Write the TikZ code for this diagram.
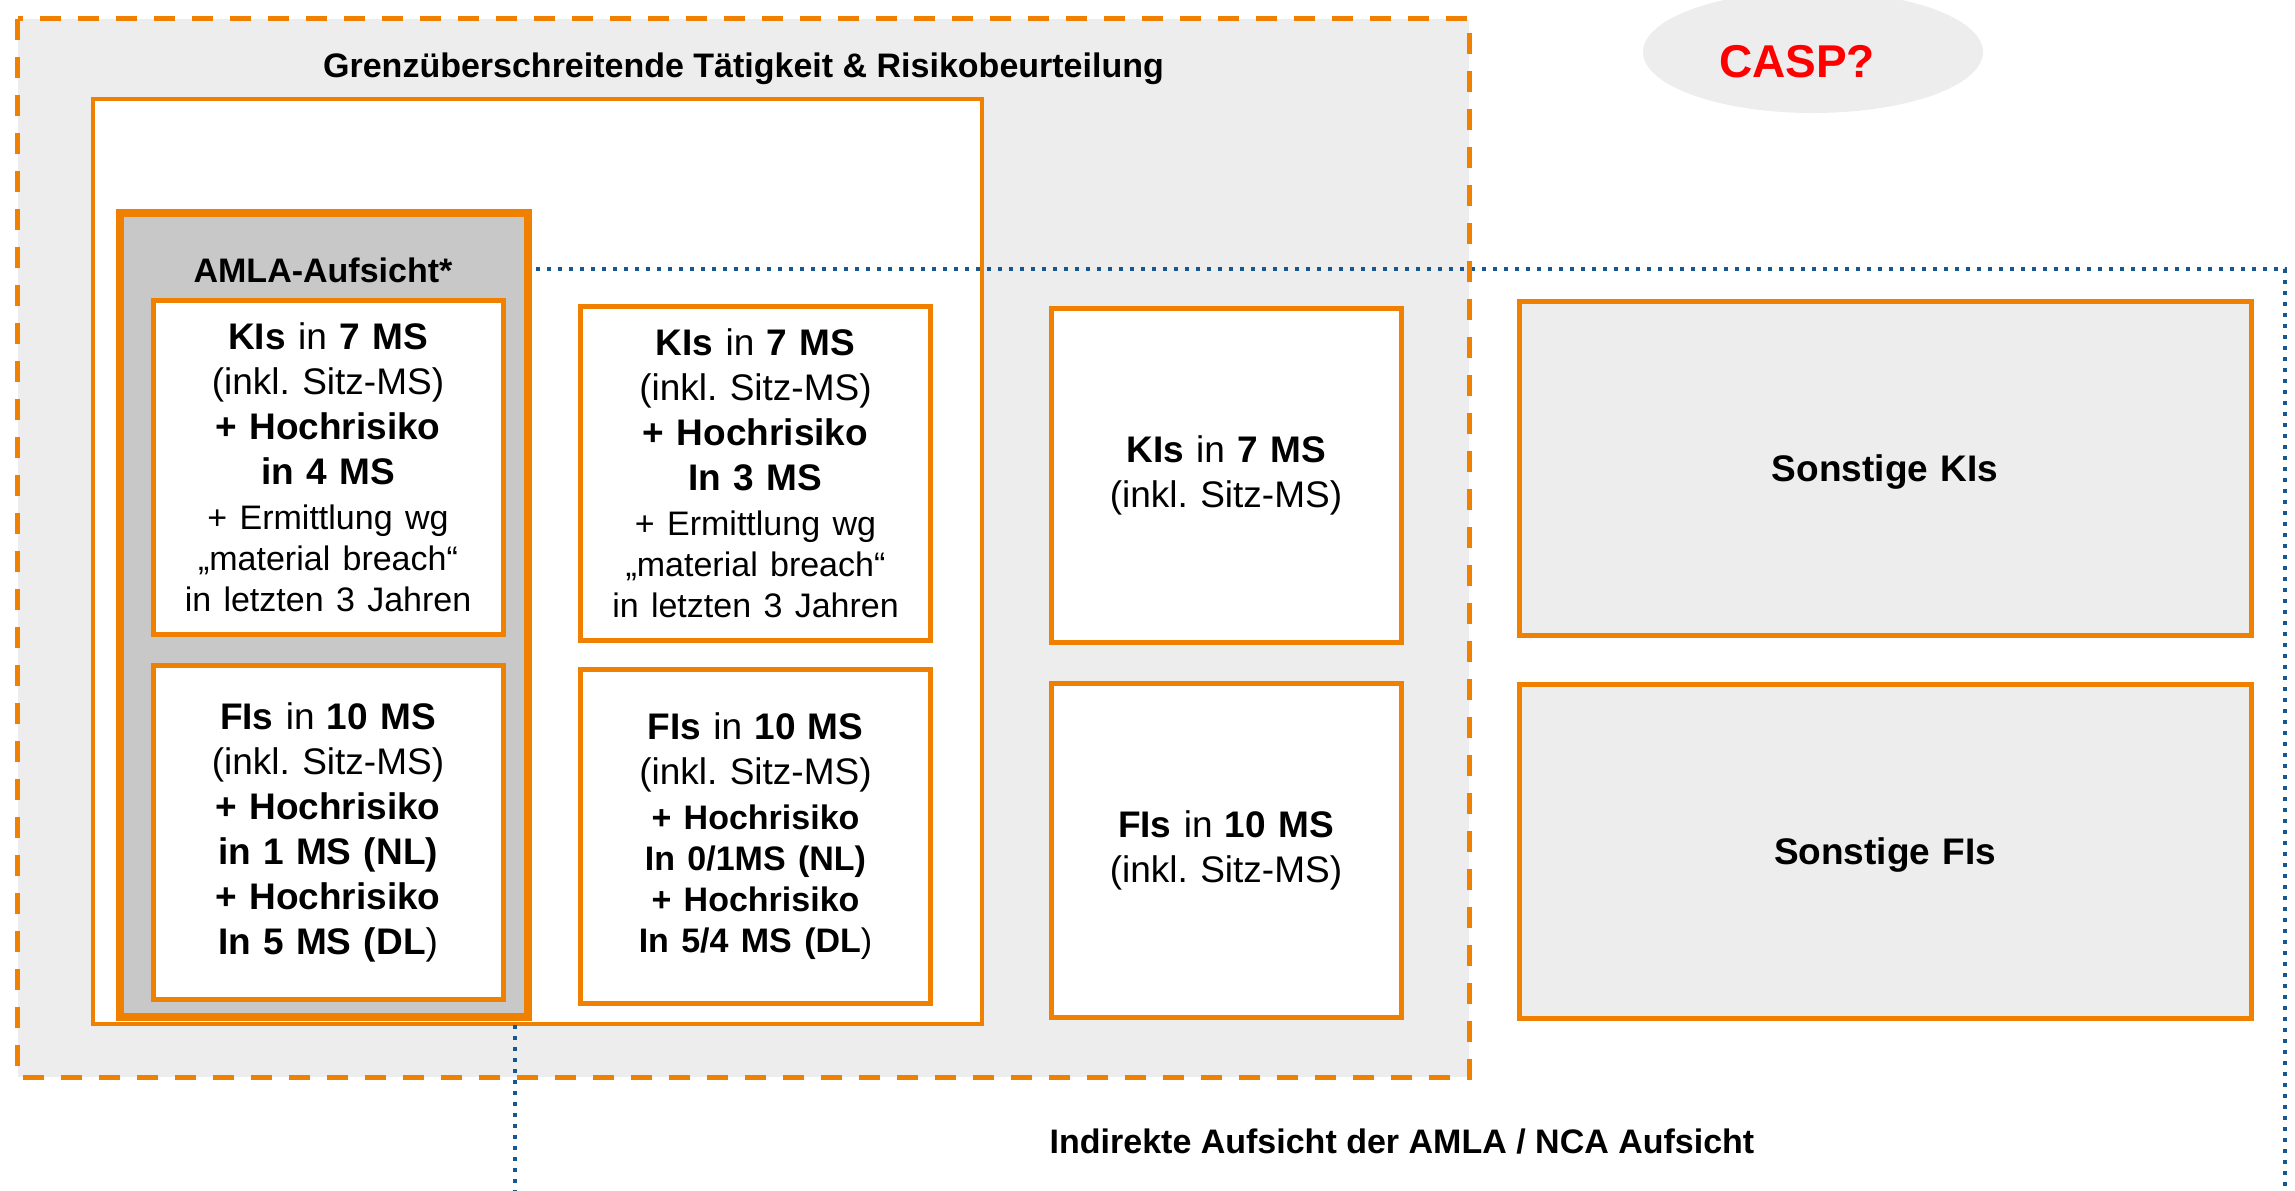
\documentclass[tikz,border=0pt]{standalone}
\usepackage{fontspec}
\setmainfont{Liberation Sans}
\usetikzlibrary{shapes.geometric}
\definecolor{amlaorange}{RGB}{240,128,0}
\definecolor{lightgrey}{RGB}{237,237,237}
\definecolor{amlagrey}{RGB}{200,200,200}
\definecolor{ncablue}{RGB}{22,86,145}
\newcommand{\klein}[1]{{\fontsize{17}{20.5}\selectfont #1}}
\tikzstyle{msbox}=[rectangle, draw=amlaorange, line width=2.5pt, fill=white, inner sep=0pt, align=center, text width=165pt, minimum width=175pt, minimum height=167pt, font=\fontsize{18.5}{22.5}\selectfont]
\tikzstyle{restbox}=[msbox, fill=lightgrey, text width=350pt, text depth=0pt, minimum width=366pt]
\tikzstyle{headline}=[anchor=base, inner sep=0pt, font=\bfseries\fontsize{17}{20}\selectfont]
\frenchspacing

\begin{document}
\begin{tikzpicture}[x=0.5pt, y=-0.5pt]
    \useasboundingbox (0,0) rectangle (2295,1190);
    % grenzueberschreitende Taetigkeit
    \node[rectangle, fill=lightgrey, minimum width=725.5pt, minimum height=529pt] (cross) at (743.5,548) {};
    \node[headline] (crosslabel) at (743.5,77) {Grenzüberschreitende Tätigkeit \& Risikobeurteilung};
    \node[ellipse, fill=lightgrey, inner sep=0pt, minimum width=170pt, minimum height=61pt] (caspbubble) at (1813,52) {};
    \node[anchor=base, inner sep=0pt, text=red, font=\bfseries\fontsize{23}{27}\selectfont] (casp) at (1797,77) {CASP?};
    \node[rectangle, draw=amlaorange, fill=white, line width=2.25pt, minimum width=444.5pt, minimum height=462.5pt] (risk) at (537.5,561.5) {};
    % indirekte Aufsicht
    \node[rectangle, draw=ncablue, line width=2.3pt, dash pattern=on 2.2pt off 3.3pt, minimum width=885pt, minimum height=475.5pt] (nca) at (1400,744.5) {};
    \node[headline] (ncalabel) at (1402,1153) {Indirekte Aufsicht der AMLA / NCA Aufsicht};
    \draw[amlaorange, line width=2.6pt, dash pattern=on 10.5pt off 8.5pt] (cross.north west) rectangle (cross.south east);
    % AMLA
    \node[rectangle, draw=amlaorange, fill=amlagrey, line width=4pt, minimum width=204pt, minimum height=402pt] (amla) at (324,615) {};
    \node[headline] (amlalabel) at (323,282) {AMLA-Aufsicht*};
    \node[msbox] (amlaki) at (328,467.5) {\textbf{KIs} in \textbf{7 MS}\\ (inkl. Sitz-MS)\\ \textbf{+ Hochrisiko}\\ \textbf{in 4 MS}\\ \klein{+ Ermittlung wg}\\[-2pt] \klein{„material breach“}\\[-2pt] \klein{in letzten 3 Jahren}};
    \node[msbox] (amlafi) at (328,832.5) {\textbf{FIs} in \textbf{10 MS}\\ (inkl. Sitz-MS)\\ \textbf{+ Hochrisiko}\\ \textbf{in 1 MS (NL)}\\ \textbf{+ Hochrisiko}\\ \textbf{In 5 MS (DL})};
    % Risikobeurteilung
    \node[msbox] (riskki) at (755.5,473) {\textbf{KIs} in \textbf{7 MS}\\ (inkl. Sitz-MS)\\ \textbf{+ Hochrisiko}\\ \textbf{In 3 MS}\\ \klein{+ Ermittlung wg}\\[-2pt] \klein{„material breach“}\\[-2pt] \klein{in letzten 3 Jahren}};
    \node[msbox] (riskfi) at (755.5,836) {\textbf{FIs} in \textbf{10 MS}\\ (inkl. Sitz-MS)\\ \klein{\textbf{+ Hochrisiko}}\\[-2pt] \klein{\textbf{In 0/1MS (NL)}}\\[-2pt] \klein{\textbf{+ Hochrisiko}}\\[-2pt] \klein{\textbf{In 5/4 MS (DL})}};
    % grenzueberschreitend
    \node[msbox] (crosski) at (1226,475.5) {\textbf{KIs} in \textbf{7 MS}\\ (inkl. Sitz-MS)};
    \node[msbox] (crossfi) at (1226,850.5) {\textbf{FIs} in \textbf{10 MS}\\ (inkl. Sitz-MS)};
    % sonstige
    \node[restbox] (restki) at (1885,468) {\textbf{Sonstige KIs}};
    \node[restbox] (restfi) at (1885,851.5) {\textbf{Sonstige FIs}};
\end{tikzpicture}
\end{document}
